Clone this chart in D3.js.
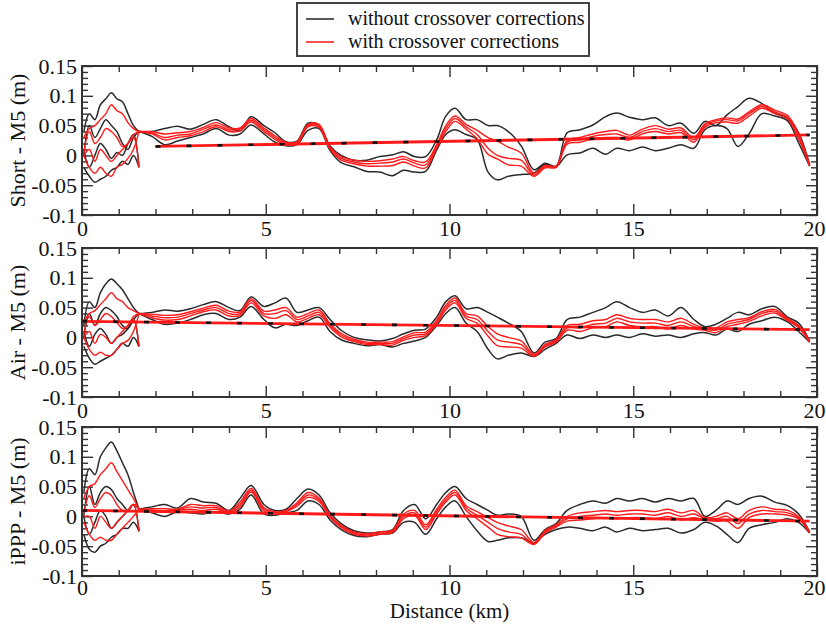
<!DOCTYPE html>
<html lang="en">
<head>
  <meta charset="UTF-8">
  <title>Crossover corrections</title>
  <script src="https://cdn.jsdelivr.net/npm/d3@7/dist/d3.min.js"></script>
  <style>
    body { margin: 0; background: #fff; }
    svg { display: block; }
    text { font-family: "Liberation Serif", "Times New Roman", serif; fill: #111; }
    .frame { fill: none; stroke: #333; stroke-width: 2; }
    .tick line { stroke: #333; stroke-width: 1.4; }
    .domain { display: none; }
    .black { fill: none; stroke: #2a2a2a; stroke-width: 1.5; }
    .red { fill: none; stroke: #ff1a1a; stroke-width: 1.4; }
  </style>
</head>
<body>
  <svg width="826" height="630"></svg>

  <script>
    // distances (km) where the corrected / uncorrected curves are sampled
    const distGrid = [1.55, 1.9, 2.25, 2.6, 2.95, 3.3, 3.65, 4.0, 4.3, 4.6, 4.95, 5.25, 5.55, 5.85, 6.15, 6.45, 6.75, 7.05, 7.4, 7.75,
      8.1, 8.45, 8.75, 9.05, 9.35, 9.65, 9.9, 10.15, 10.45, 10.75, 11.05, 11.3, 11.6, 11.95, 12.3, 12.6, 12.9, 13.2, 13.55, 13.9,
      14.25, 14.55, 14.9, 15.25, 15.6, 15.95, 16.3, 16.65, 16.95, 17.25, 17.55, 17.85, 18.15, 18.5, 18.85, 19.2, 19.5, 19.8]
    // start of the run, where many passes overlap
    const tangleX = [0.05, 0.2, 0.35, 0.5, 0.65, 0.8, 0.95, 1.1, 1.25, 1.4, 1.55]

    const xTicks = [0, 5, 10, 15, 20]
    const yTicks = [-0.1, -0.05, 0, 0.05, 0.1, 0.15]
    const panelTitles = ['Short - M5 (m)', 'Air - M5 (m)', 'iPPP - M5 (m)']
    const legendLabels = ['without crossover corrections', 'with crossover corrections']

    // Short - M5
    const shortBlackHi = [.040, .040, .045, .049, .044, .052, .060, .048, .041, .065, .050, .038, .023, .024, .054, .050, .016, .000, -.008, -.008,
      -.002, .001, .006, -.002, -.002, .026, .066, .079, .060, .060, .050, .050, .040, .016, -.024, -.013, -.018, .038, .043, .051,
      .065, .071, .064, .060, .063, .050, .054, .037, .057, .050, .068, .082, .096, .087, .071, .062, .038, -.016]
    const shortBlackLo = [.040, .032, .018, .024, .030, .036, .045, .034, .036, .051, .036, .022, .016, .018, .042, .045, .008, -.012, -.019, -.027,
      -.028, -.034, -.025, -.028, -.027, .009, .035, .043, .035, .027, -.028, -.041, -.035, -.032, -.030, -.015, -.019, .001, .004, .012,
      .002, .012, .008, .014, .008, .012, .018, .012, .043, .050, .045, .015, .036, .070, .066, .058, .021, -.018]
    const shortRedHi = [.040, .040, .036, .038, .040, .047, .055, .046, .046, .062, .046, .033, .022, .023, .052, .052, .014, -.002, -.008, -.010,
      -.009, -.006, -.002, -.009, -.011, .018, .050, .066, .052, .042, .030, .024, .014, .004, -.030, -.017, -.018, .025, .030, .036,
      .040, .042, .034, .044, .050, .044, .046, .030, .053, .060, .063, .061, .073, .085, .076, .067, .036, -.016]
    const shortRedMid = [.040, .038, .030, .034, .036, .044, .051, .043, .044, .059, .043, .030, .020, .021, .050, .050, .012, -.005, -.011, -.014,
      -.013, -.011, -.006, -.013, -.016, .015, .045, .062, .048, .035, .012, .000, -.005, -.008, -.033, -.019, -.019, .022, .026, .032,
      .035, .036, .030, .040, .045, .040, .042, .026, .050, .058, .060, .058, .070, .082, .073, .064, .032, -.017]
    const shortRedLo = [.040, .036, .026, .030, .033, .040, .048, .040, .041, .056, .040, .027, .018, .019, .048, .047, .010, -.008, -.014, -.018,
      -.018, -.017, -.011, -.018, -.021, .012, .040, .057, .044, .028, .002, -.006, -.016, -.018, -.035, -.021, -.020, .019, .022, .028,
      .030, .030, .026, .036, .040, .036, .038, .022, .047, .055, .056, .054, .066, .079, .070, .061, .028, -.018]
    const shortTangleBlack = [
      [.040, .070, .060, .085, .095, .105, .095, .090, .070, .050, .040],
      [.000, .050, .030, .045, .060, .050, .040, .020, .010, .030, .040],
      [.010, -.020, .000, .020, .010, -.005, .005, .000, .020, .035, -.020],
      [-.020, -.035, -.045, -.040, -.035, -.025, -.020, -.010, -.015, .000, -.020]]
    const shortTangleRed = [
      [.030, .045, .050, .060, .070, .085, .075, .070, .055, .045, .040],
      [.005, .040, .020, .030, .045, .040, .030, .015, .020, .035, .040],
      [.000, .010, -.010, .010, .000, -.010, .000, .010, .020, .030, -.020],
      [.000, -.020, -.030, -.020, -.030, -.035, -.020, -.015, -.005, .010, .040]]
    const shortTrend = [[2.0, .015], [19.8, .0343]]

    // Air - M5
    const airBlackHi = [.040, .042, .046, .044, .048, .055, .060, .050, .045, .068, .052, .058, .066, .042, .046, .050, .030, .012, .000, -.004,
      -.006, -.002, .006, .012, .014, .034, .060, .070, .048, .050, .042, .034, .024, .010, -.026, -.008, -.002, .030, .034, .042,
      .050, .060, .050, .042, .046, .036, .050, .030, .018, .022, .032, .042, .038, .048, .052, .034, .024, -.006]
    const airBlackLo = [.040, .030, .022, .024, .030, .038, .040, .030, .034, .052, .030, .016, .022, .020, .028, .034, .010, -.004, -.010, -.014,
      -.012, -.016, -.010, -.006, .000, .020, .040, .050, .024, .010, -.020, -.036, -.030, -.026, -.032, -.020, -.010, .004, -.002, .004,
      .000, .004, .000, .006, .002, .004, .000, .006, .008, .004, .014, .010, .022, .028, .034, .026, .010, -.008]
    const airRedHi = [.040, .039, .037, .038, .043, .049, .054, .044, .043, .065, .044, .046, .050, .034, .040, .046, .023, .007, -.003, -.008,
      -.008, -.007, .001, .008, .009, .029, .054, .066, .040, .036, .018, .006, .000, -.006, -.028, -.012, -.004, .020, .022, .028,
      .030, .038, .032, .030, .030, .026, .032, .022, .016, .016, .026, .030, .033, .043, .047, .032, .020, -.006]
    const airRedMid = [.040, .036, .033, .034, .040, .046, .050, .040, .040, .062, .040, .040, .045, .030, .036, .042, .020, .004, -.005, -.010,
      -.010, -.010, -.002, .004, .006, .026, .050, .062, .036, .030, .010, -.004, -.008, -.012, -.030, -.014, -.006, .016, .016, .022,
      .024, .032, .026, .024, .024, .020, .026, .018, .014, .012, .022, .026, .030, .040, .044, .030, .018, -.007]
    const airRedLo = [.040, .033, .029, .030, .036, .043, .046, .036, .037, .058, .036, .032, .038, .026, .032, .038, .017, .001, -.007, -.012,
      -.012, -.013, -.005, .000, .003, .023, .046, .058, .032, .024, .002, -.014, -.016, -.018, -.032, -.016, -.008, .012, .010, .016,
      .018, .026, .020, .018, .018, .014, .020, .014, .012, .008, .018, .022, .027, .036, .041, .028, .016, -.008]
    const airTangleBlack = [
      [.020, .060, .050, .075, .090, .098, .090, .080, .065, .050, .040],
      [.000, .040, .020, .040, .050, .045, .035, .020, .015, .030, .040],
      [.010, -.015, .005, .015, .005, -.010, .000, .005, .015, .030, -.015],
      [-.015, -.035, -.045, -.040, -.035, -.030, -.020, -.010, -.015, .000, -.015]]
    const airTangleRed = [
      [.025, .040, .045, .055, .065, .075, .065, .060, .050, .045, .040],
      [.005, .035, .020, .030, .040, .035, .025, .015, .020, .035, .040],
      [.000, .010, -.010, .005, .000, -.010, .000, .010, .020, .030, -.015],
      [.000, -.020, -.030, -.025, -.030, -.030, -.020, -.010, -.005, .010, .040]]
    const airTrend = [[0, .027], [19.8, .013]]

    // iPPP - M5
    const pppBlackHi = [.012, .016, .020, .014, .030, .024, .022, .010, .030, .052, .020, .010, .012, .030, .046, .036, .006, -.012, -.024, -.028,
      -.026, -.022, .010, .020, -.004, .020, .040, .050, .030, .020, .010, .002, .004, .000, -.040, -.022, -.012, .010, .020, .026,
      .022, .030, .026, .030, .024, .030, .026, .030, .000, .010, .026, .020, .030, .034, .024, .018, .004, -.026]
    const pppBlackLo = [.012, .006, .000, .008, .006, .004, .008, .004, .012, .036, .004, .002, .006, .010, .026, .020, -.006, -.022, -.032, -.034,
      -.030, -.028, -.010, -.010, -.030, -.004, .016, .026, .000, -.024, -.042, -.040, -.036, -.036, -.044, -.030, -.022, -.018, -.020, -.024,
      -.018, -.026, -.020, -.024, -.022, -.020, -.028, -.022, -.010, -.016, -.030, -.044, -.020, -.014, -.010, -.004, -.010, -.028]
    const pppRedHi = [.012, .013, .013, .012, .020, .018, .018, .009, .024, .047, .015, .008, .010, .023, .040, .031, .002, -.015, -.026, -.029,
      -.026, -.023, .004, .010, -.014, .012, .032, .044, .018, .008, -.002, -.010, -.016, -.022, -.044, -.024, -.014, .000, .006, .008,
      .010, .008, .010, .010, .008, .012, .006, .010, -.002, .000, .006, -.004, .010, .016, .012, .010, .000, -.026]
    const pppRedMid = [.012, .011, .010, .011, .016, .014, .015, .007, .020, .044, .012, .006, .009, .020, .036, .028, .000, -.017, -.028, -.031,
      -.028, -.025, .000, .006, -.018, .008, .028, .040, .014, .002, -.010, -.020, -.026, -.030, -.046, -.026, -.016, -.004, .000, .002,
      .004, .002, .004, .004, .002, .006, .000, .004, -.004, -.004, .000, -.012, .004, .010, .008, .006, -.002, -.027]
    const pppRedLo = [.012, .009, .007, .010, .012, .010, .012, .005, .016, .041, .009, .004, .008, .017, .032, .025, -.002, -.019, -.030, -.033,
      -.030, -.027, -.004, .002, -.022, .004, .024, .036, .010, -.004, -.018, -.030, -.034, -.036, -.047, -.028, -.018, -.008, -.006, -.004,
      -.002, -.004, -.002, -.002, -.004, .000, -.006, -.002, -.006, -.008, -.008, -.020, -.002, .004, .004, .002, -.004, -.028]
    const pppTangleBlack = [
      [.040, .080, .070, .100, .115, .125, .110, .090, .070, .040, .012],
      [.000, .050, .020, .040, .050, .045, .030, .020, .010, .020, .012],
      [.000, -.030, -.010, .010, .000, -.020, -.010, .000, .010, .020, -.025],
      [-.030, -.055, -.060, -.050, -.045, -.035, -.030, -.020, -.020, -.010, -.025]]
    const pppTangleRed = [
      [.030, .050, .055, .070, .080, .090, .075, .060, .045, .030, .012],
      [.005, .035, .015, .030, .040, .035, .020, .010, .010, .020, .012],
      [.000, .000, -.020, .000, -.010, -.020, -.010, .000, .010, .020, -.025],
      [-.010, -.030, -.040, -.035, -.040, -.040, -.030, -.020, -.010, .000, .012]]
    const pppTrend = [[0, .010], [19.8, -.008]]

    const panels = [
      { title: panelTitles[0], top: 66, blackHi: shortBlackHi, blackLo: shortBlackLo, redHi: shortRedHi, redMid: shortRedMid, redLo: shortRedLo,
        tangleBlack: shortTangleBlack, tangleRed: shortTangleRed, trend: shortTrend },
      { title: panelTitles[1], top: 248, blackHi: airBlackHi, blackLo: airBlackLo, redHi: airRedHi, redMid: airRedMid, redLo: airRedLo,
        tangleBlack: airTangleBlack, tangleRed: airTangleRed, trend: airTrend },
      { title: panelTitles[2], top: 427, blackHi: pppBlackHi, blackLo: pppBlackLo, redHi: pppRedHi, redMid: pppRedMid, redLo: pppRedLo,
        tangleBlack: pppTangleBlack, tangleRed: pppTangleRed, trend: pppTrend }
    ]

    const left = 82
    const width = 735
    const height = 149

    const svg = d3.select('svg')

    const x = d3.scaleLinear().domain([0, 20]).range([0, width])
    const y = d3.scaleLinear().domain([-0.1, 0.15]).range([height, 0])

    const minorX = d3.range(0, 21).filter(d => d % 5 !== 0)
    const minorY = d3.range(-10, 16).filter(d => d % 5 !== 0).map(d => d / 100)
    const fmt = d => String(+d.toFixed(2))

    const line = d3.line()
      .x(d => x(d[0]))
      .y(d => y(d[1]))
      .curve(d3.curveCatmullRom.alpha(0.5))

    panels.forEach((p, i) => {
      const g = svg.append('g').attr('transform', `translate(${left}, ${p.top})`)

      // inward ticks on all four sides
      g.append('g').attr('transform', `translate(0, ${height})`)
        .call(d3.axisBottom(x).tickValues(xTicks).tickSize(-11).tickPadding(i === 2 ? 3 : 5).tickFormat(fmt))
        .call(a => a.selectAll('text').style('font-size', '22px')
          .attr('dx', d => d === 20 ? -3 : 0))
      g.append('g').attr('transform', `translate(0, ${height})`)
        .call(d3.axisBottom(x).tickValues(minorX).tickSize(-6).tickFormat(''))
      g.append('g')
        .call(d3.axisTop(x).tickValues(xTicks).tickSize(-11).tickFormat(''))
      g.append('g')
        .call(d3.axisTop(x).tickValues(minorX).tickSize(-6).tickFormat(''))
      g.append('g')
        .call(d3.axisLeft(y).tickValues(yTicks).tickSize(-11).tickPadding(5).tickFormat(fmt))
        .call(a => a.selectAll('text').style('font-size', '22px'))
      g.append('g')
        .call(d3.axisLeft(y).tickValues(minorY).tickSize(-6).tickFormat(''))
      g.append('g').attr('transform', `translate(${width}, 0)`)
        .call(d3.axisRight(y).tickValues(yTicks).tickSize(-11).tickFormat(''))
      g.append('g').attr('transform', `translate(${width}, 0)`)
        .call(d3.axisRight(y).tickValues(minorY).tickSize(-6).tickFormat(''))

      const blackSeries = [p.blackHi, p.blackLo].map(v => distGrid.map((d, j) => [d, v[j]]))
      const redSeries = [p.redHi, p.redMid, p.redLo].map(v => distGrid.map((d, j) => [d, v[j]]))
      const tangleB = p.tangleBlack.map(v => tangleX.map((d, j) => [d, v[j]]))
      const tangleR = p.tangleRed.map(v => tangleX.map((d, j) => [d, v[j]]))

      g.selectAll(null).data(tangleB.concat(blackSeries)).enter()
        .append('path').attr('class', 'black').attr('d', line)
      g.selectAll(null).data(tangleR.concat(redSeries)).enter()
        .append('path').attr('class', 'red').attr('d', line)

      // fitted trend: red with black dashes showing through
      g.append('path').datum(p.trend)
        .attr('fill', 'none').attr('stroke', '#ff1a1a').attr('stroke-width', 2.8)
        .attr('d', d3.line().x(d => x(d[0])).y(d => y(d[1])))
      g.append('path').datum(p.trend)
        .attr('fill', 'none').attr('stroke', '#111').attr('stroke-width', 2.6)
        .attr('stroke-dasharray', '5,26')
        .attr('d', d3.line().x(d => x(d[0])).y(d => y(d[1])))

      g.append('rect').attr('class', 'frame')
        .attr('width', width).attr('height', height)

      svg.append('text')
        .attr('transform', `translate(25, ${p.top + height / 2}) rotate(-90)`)
        .attr('text-anchor', 'middle')
        .style('font-size', '22px')
        .text(p.title)
    })

    svg.append('text')
      .attr('x', left + width / 2)
      .attr('y', 618)
      .attr('text-anchor', 'middle')
      .style('font-size', '21px')
      .text('Distance (km)')

    // legend
    const legend = svg.append('g').attr('transform', 'translate(297, 3)')
    legend.append('rect').attr('width', 292).attr('height', 53)
      .attr('fill', '#fff').attr('stroke', '#444').attr('stroke-width', 2)
    legendLabels.forEach((t, i) => {
      legend.append('line').attr('x1', 9).attr('x2', 37).attr('y1', 16 + i * 23).attr('y2', 16 + i * 23)
        .attr('stroke', i === 0 ? '#222' : '#ff1a1a').attr('stroke-width', 1.5)
      legend.append('text').attr('x', 51).attr('y', 22 + i * 23)
        .style('font-size', '20px').text(t)
    })
  </script>
</body>
</html>
